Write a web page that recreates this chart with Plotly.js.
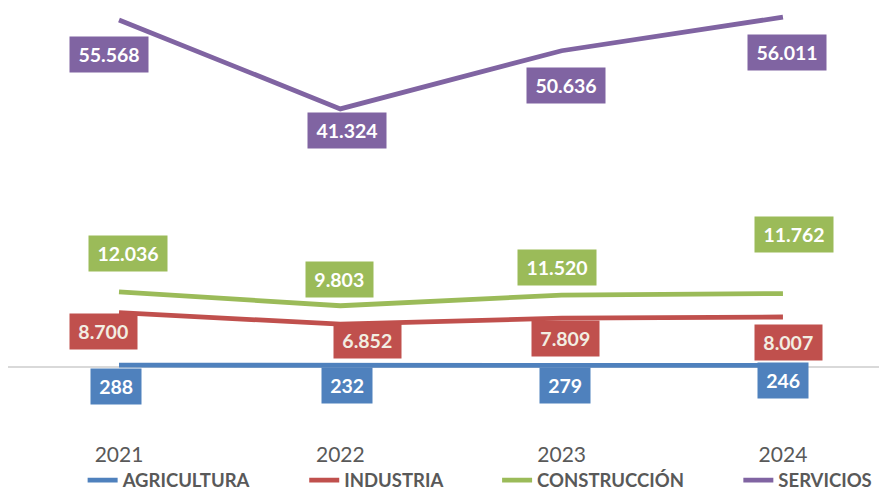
<!DOCTYPE html>
<html>
<head>
<meta charset="utf-8">
<script src="https://cdn.plot.ly/plotly-3.0.1.min.js"></script>
<style>html,body{margin:0;padding:0;background:#fff;}#chart{width:879px;height:491px;}</style>
</head>
<body>
<div id="chart"></div>
<script>
// ---- data ----
const years = ["2021", "2022", "2023", "2024"];
const seriesNames = ["AGRICULTURA", "INDUSTRIA", "CONSTRUCCIÓN", "SERVICIOS"];
const agricultura = [288, 232, 279, 246];
const industria = [8700, 6852, 7809, 8007];
const construccion = [12036, 9803, 11520, 11762];
const servicios = [55568, 41324, 50636, 56011];
const labelTexts = [
  ["288", "232", "279", "246"],
  ["8.700", "6.852", "7.809", "8.007"],
  ["12.036", "9.803", "11.520", "11.762"],
  ["55.568", "41.324", "50.636", "56.011"]
];

// ---- styling ----
const colors = ["#4F81BD", "#C0504D", "#9BBB59", "#8064A2"];
const labelFontColors = ["#FFFFFF", "#F2EEE2", "#FFFFFF", "#FFFFFF"];
// label box offsets (px) relative to each point: [dx, dy] (dy positive = down)
const labelOffsets = [
  [[-3, 21], [7, 20], [3, 20], [0, 15]],
  [[-16, 19], [27, 16], [4, 20], [6, 26]],
  [[9, -38], [-1, -26], [-5, -28], [11, -59]],
  [[-10, 35], [7, 22], [4, 35], [4, 35]]
];
const legendPad = "\u00a0".repeat(11);

const allSeries = [agricultura, industria, construccion, servicios];
const xIdx = years.map((_, j) => j);

const traces = allSeries.map((vals, i) => ({
  type: "scatter",
  mode: "lines",
  name: seriesNames[i] + (i < allSeries.length - 1 ? legendPad : ""),
  x: xIdx,
  y: vals,
  line: {color: colors[i], width: 4.8},
  hoverinfo: "skip"
}));

const annotations = [];
allSeries.forEach((vals, i) => {
  vals.forEach((v, j) => {
    const txt = labelTexts[i][j];
    const nd = txt.replace(/\./g, "").length;
    const ndots = txt.length - nd;
    annotations.push({
      x: j, y: v, xref: "x", yref: "y",
      text: "<b>" + txt + "</b>",
      showarrow: false,
      xshift: labelOffsets[i][j][0],
      yshift: -labelOffsets[i][j][1],
      bgcolor: colors[i],
      font: {family: "Lato, 'Open Sans', sans-serif", size: 19.5, color: labelFontColors[i]},
      width: nd * 11.4 + ndots * 5 + 16,
      height: 35,
      borderpad: 0,
      align: "center",
      valign: "middle"
    });
  });
});

const layout = {
  width: 879, height: 491,
  margin: {l: 8, r: 0, t: 5, b: 51},
  paper_bgcolor: "#FFFFFF",
  plot_bgcolor: "#FFFFFF",
  showlegend: true,
  legend: {
    orientation: "h",
    xref: "container", yref: "container",
    x: 0.094, xanchor: "left",
    y: 0.021, yanchor: "middle",
    bgcolor: "rgba(0,0,0,0)",
    font: {family: "Lato, 'Open Sans', sans-serif", size: 18.5, color: "#595959", weight: "bold"},
    traceorder: "normal"
  },
  xaxis: {
    type: "linear",
    range: [-0.5016, 3.434],
    tickvals: xIdx,
    ticktext: years,
    showgrid: false, zeroline: false, showline: false,
    ticks: "",
    tickfont: {family: "Lato, 'Open Sans', sans-serif", size: 21, color: "#595959"},
    fixedrange: true
  },
  yaxis: {
    range: [-11690, 57960],
    showgrid: false,
    showticklabels: false,
    zeroline: true, zerolinecolor: "#D9D9D9", zerolinewidth: 1.5,
    fixedrange: true
  },
  annotations: annotations
};

Plotly.newPlot("chart", traces, layout, {displayModeBar: false, staticPlot: true});
</script>
</body>
</html>
